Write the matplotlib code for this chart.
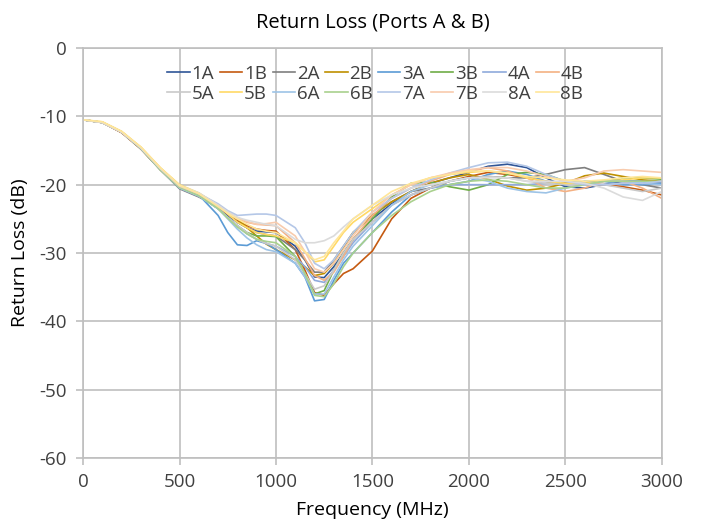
import matplotlib
matplotlib.use("Agg")
import matplotlib.pyplot as plt

plt.rcParams['font.family'] = ['Open Sans', 'DejaVu Sans']
plt.rcParams['axes.unicode_minus'] = False

# frequency points (MHz)
freq = [0, 100, 200, 300, 400, 500, 600, 700, 750, 800, 850, 900, 950, 1000, 1100, 1150, 1200, 1250, 1300, 1350,
        1400, 1500, 1600, 1700, 1800, 1900, 2000, 2100, 2200, 2300, 2400, 2500, 2600, 2700, 2800, 2900, 3000]

rl_1a = [-10.5, -10.9, -12.3, -14.7, -17.7, -20.3, -21.5, -23.5, -24.5, -25.5, -26.3, -26.8, -26.9, -27.0, -29.0, -31.0,
         -33.5, -33.6, -32.0, -30.0, -28.0, -25.0, -22.8, -21.0, -19.8, -19.0, -18.2, -17.3, -17.0, -17.5, -19.0, -20.3,
         -20.5, -20.0, -19.5, -19.5, -19.8]
rl_1b = [-10.5, -10.9, -12.4, -14.8, -17.8, -20.5, -21.7, -23.3, -24.3, -25.3, -26.0, -26.5, -26.7, -26.8, -29.5, -32.5,
         -35.8, -36.2, -34.5, -33.0, -32.3, -29.7, -25.0, -22.0, -20.5, -19.5, -18.8, -18.2, -18.5, -19.0, -19.5, -19.8,
         -20.0, -20.0, -20.3, -20.8, -21.5]
rl_2a = [-10.5, -10.9, -12.3, -14.7, -17.8, -20.6, -21.8, -23.2, -24.3, -25.5, -26.3, -27.0, -27.3, -27.5, -29.5, -31.0,
         -32.8, -32.8, -31.0, -29.0, -27.0, -24.5, -22.5, -21.0, -20.5, -19.5, -19.0, -18.8, -19.0, -19.0, -18.5, -17.8,
         -17.5, -18.5, -19.5, -20.0, -20.5]
rl_2b = [-10.5, -10.9, -12.3, -14.6, -17.6, -20.2, -21.4, -23.0, -24.0, -25.0, -26.3, -27.5, -28.7, -29.5, -31.0, -32.0,
         -33.3, -33.0, -31.5, -29.2, -27.0, -24.5, -22.5, -21.0, -19.8, -19.0, -18.5, -19.2, -20.2, -20.8, -20.5, -19.8,
         -18.7, -18.3, -18.8, -19.3, -19.5]
rl_3a = [-10.5, -10.9, -12.3, -14.7, -17.7, -20.3, -21.5, -24.5, -27.0, -28.8, -28.9, -28.2, -28.6, -29.5, -31.5, -33.5,
         -37.0, -36.8, -34.0, -31.5, -30.0, -27.0, -24.0, -21.5, -20.5, -20.0, -19.5, -18.5, -18.0, -18.5, -19.5, -20.0,
         -19.5, -19.5, -20.0, -20.0, -19.8]
rl_3b = [-10.5, -10.9, -12.3, -14.7, -17.8, -20.4, -21.6, -23.5, -24.8, -26.0, -27.0, -27.5, -27.5, -27.6, -30.5, -33.0,
         -36.0, -35.5, -32.5, -30.0, -28.0, -25.0, -21.8, -19.8, -19.6, -20.3, -20.8, -20.0, -18.5, -18.2, -18.5, -19.5,
         -19.8, -19.5, -19.0, -19.0, -19.2]
rl_4a = [-10.5, -10.9, -12.3, -14.7, -17.7, -20.3, -21.5, -23.5, -24.8, -26.0, -27.2, -28.0, -28.6, -29.0, -30.5, -32.0,
         -34.0, -34.3, -32.5, -30.5, -28.5, -25.5, -23.0, -21.5, -20.5, -20.0, -20.0, -20.0, -20.0, -20.0, -19.8, -19.5,
         -19.8, -20.0, -19.8, -19.8, -19.5]
rl_4b = [-10.5, -10.9, -12.3, -14.6, -17.6, -20.2, -21.3, -23.2, -24.2, -25.0, -25.5, -25.8, -25.9, -26.0, -28.5, -30.8,
         -33.3, -34.0, -32.8, -30.5, -28.0, -24.5, -22.0, -20.5, -19.5, -18.5, -18.0, -17.5, -18.0, -19.0, -20.5, -21.0,
         -20.5, -19.5, -19.5, -20.5, -22.0]
rl_5a = [-10.5, -10.9, -12.3, -14.7, -17.7, -20.4, -21.6, -23.5, -24.8, -26.0, -27.0, -28.0, -28.6, -29.0, -31.0, -33.0,
         -35.3, -34.8, -32.5, -30.0, -28.0, -25.5, -23.0, -21.5, -20.5, -19.5, -19.0, -18.8, -19.0, -19.5, -19.8, -20.0,
         -20.0, -20.0, -20.5, -21.0, -20.5]
rl_5b = [-10.5, -10.8, -12.2, -14.5, -17.5, -20.0, -21.2, -23.0, -24.3, -25.5, -26.3, -27.0, -27.3, -27.5, -28.5, -29.8,
         -31.3, -31.0, -29.0, -27.0, -25.5, -23.5, -21.5, -20.0, -19.0, -18.5, -18.2, -18.0, -18.3, -19.0, -19.5, -19.8,
         -19.8, -19.5, -19.3, -19.0, -19.0]
rl_6a = [-10.5, -10.9, -12.3, -14.7, -17.8, -20.5, -21.7, -23.5, -25.0, -26.5, -27.8, -28.8, -29.5, -29.8, -31.5, -33.5,
         -36.0, -36.0, -33.5, -31.0, -29.0, -26.0, -23.0, -21.0, -20.0, -19.5, -19.0, -19.5, -20.5, -21.0, -21.2, -20.5,
         -20.0, -19.5, -19.5, -19.8, -20.0]
rl_6b = [-10.5, -10.9, -12.3, -14.7, -17.8, -20.4, -21.6, -23.5, -24.9, -26.2, -27.2, -28.0, -28.3, -28.5, -30.5, -33.0,
         -36.2, -36.4, -34.5, -32.0, -30.0, -27.0, -24.5, -22.5, -21.0, -20.0, -19.5, -19.3, -19.5, -20.0, -20.5, -20.5,
         -20.0, -19.5, -19.5, -19.5, -19.5]
rl_7a = [-10.5, -10.9, -12.3, -14.6, -17.6, -20.2, -21.3, -22.8, -23.8, -24.5, -24.4, -24.3, -24.3, -24.5, -26.3, -28.5,
         -31.5, -32.3, -31.0, -29.0, -27.0, -24.0, -22.0, -20.5, -19.3, -18.3, -17.5, -16.8, -16.7, -17.3, -18.5, -19.5,
         -20.0, -20.0, -19.8, -19.8, -19.5]
rl_7b = [-10.5, -10.9, -12.3, -14.6, -17.6, -20.2, -21.3, -23.0, -24.0, -24.8, -25.4, -25.8, -25.7, -25.5, -27.5, -29.8,
         -32.3, -32.8, -31.5, -29.5, -27.5, -24.0, -21.5, -20.0, -19.0, -18.3, -17.8, -17.5, -17.5, -18.0, -18.8, -19.5,
         -19.0, -18.0, -17.8, -18.0, -18.2]
rl_8a = [-10.5, -10.9, -12.3, -14.6, -17.6, -20.1, -21.2, -23.0, -24.0, -24.8, -25.2, -25.5, -25.8, -26.0, -28.0, -28.5,
         -28.5, -28.2, -27.5, -26.2, -25.0, -23.0, -21.5, -20.5, -20.0, -19.5, -19.0, -19.0, -19.0, -19.5, -19.5, -19.5,
         -19.8, -20.5, -21.8, -22.3, -21.0]
rl_8b = [-10.5, -10.8, -12.2, -14.5, -17.5, -20.1, -21.3, -23.2, -24.2, -25.0, -25.8, -26.5, -26.8, -27.0, -28.5, -29.8,
         -31.0, -30.5, -28.5, -26.8, -25.0, -23.0, -21.0, -19.8, -19.0, -18.5, -18.0, -18.0, -18.3, -18.8, -19.0, -19.3,
         -19.5, -19.3, -19.0, -18.8, -19.0]

labels = ['1A', '1B', '2A', '2B', '3A', '3B', '4A', '4B',
          '5A', '5B', '6A', '6B', '7A', '7B', '8A', '8B']
colors = ['#2F5597', '#C55A11', '#7F7F7F', '#BF9000', '#5B9BD5', '#70AD47', '#8FAADC', '#F4B183',
          '#C9C9C9', '#FFD966', '#9DC3E6', '#A9D18E', '#B4C7E7', '#F8CBAD', '#DBDBDB', '#FFE699']
series = [rl_1a, rl_1b, rl_2a, rl_2b, rl_3a, rl_3b, rl_4a, rl_4b,
          rl_5a, rl_5b, rl_6a, rl_6b, rl_7a, rl_7b, rl_8a, rl_8b]

fig = plt.figure(figsize=(7.04, 5.22), dpi=100)
ax = fig.add_axes([0.118, 0.1226, 0.822, 0.7854])

lines = []
for lab, vals, col in zip(labels, series, colors):
    ln, = ax.plot(freq, vals, color=col, linewidth=1.2, label=lab)
    lines.append(ln)

ax.set_xlim(0, 3000)
ax.set_ylim(-60, 0)
ax.set_xticks(range(0, 3001, 500))
ax.set_yticks(range(-60, 1, 10))
ax.grid(True, color='#BFBFBF', linewidth=1.2)
ax.set_axisbelow(True)
for s in ax.spines.values():
    s.set_color('#BFBFBF')
    s.set_linewidth(1.2)
ax.tick_params(colors='#BFBFBF', labelcolor='#404040', labelsize=13.5, length=5, width=1.2)
ax.tick_params(axis='y', pad=7)
ax.tick_params(axis='x', pad=6)

ax.set_title('Return Loss (Ports A & B)', fontsize=14.5, color='black', pad=15)
ax.set_xlabel('Frequency (MHz)', fontsize=14, color='black', labelpad=7)
ax.set_ylabel('Return Loss (dB)', fontsize=14, color='black', labelpad=7)

# legend filled row by row (matplotlib fills columns first)
order = [0, 8, 1, 9, 2, 10, 3, 11, 4, 12, 5, 13, 6, 14, 7, 15]
ax.legend([lines[i] for i in order], [labels[i] for i in order],
          ncol=8, loc='center', bbox_to_anchor=(0.505, 0.913), frameon=False,
          fontsize=13.5, handlelength=1.2, handletextpad=0.1, columnspacing=0.3,
          labelspacing=0.1, borderpad=0.1, labelcolor='#404040')

fig.savefig('out.png', dpi=100)
